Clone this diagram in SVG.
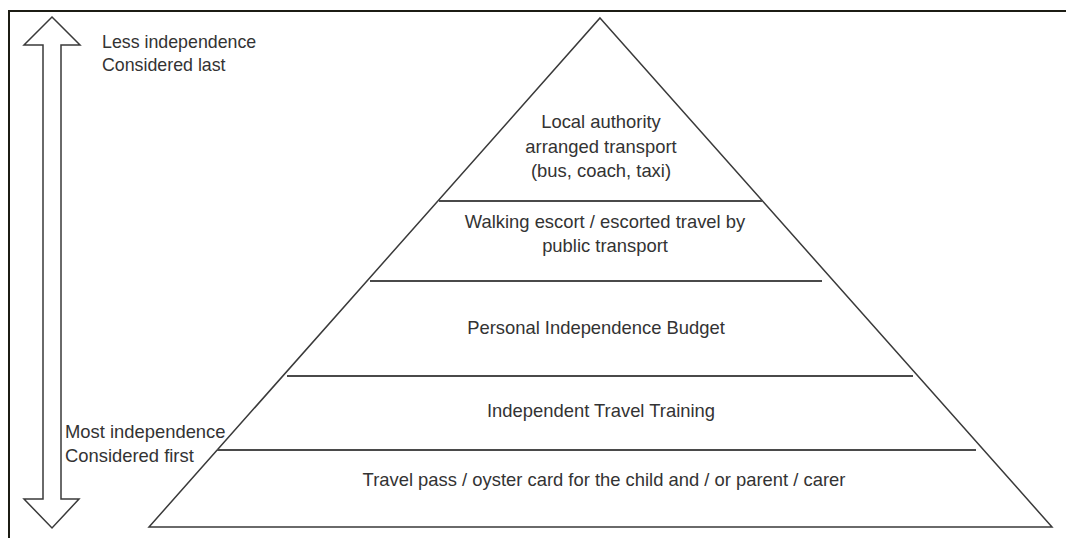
<svg xmlns="http://www.w3.org/2000/svg" width="1066" height="538" viewBox="0 0 1066 538">
  <style>
    .frame { fill: none; stroke: #1c1c14; stroke-width: 2; }
    .edge { fill: none; stroke: #3a3a3a; stroke-width: 1.5; }
    .div { fill: none; stroke: #4a4a4a; stroke-width: 2; }
    .lbl { font-family: "Liberation Sans", Arial, sans-serif; font-size: 18.4px; fill: #333333; }
    .c { text-anchor: middle; }
  </style>
  <rect x="0" y="0" width="1066" height="538" fill="#ffffff"/>
  <path class="frame" d="M9,538 V11 H1066"/>

  <g id="arrow">
    <polygon class="edge" points="52,17 80,45 61,45 61,499 79,499 52,528 24,499 43,499 43,45 24,45"/>
  </g>

  <g id="label-top">
    <text class="lbl" x="102" y="48" style="font-size:17.8px">Less independence</text>
    <text class="lbl" x="102" y="71" style="font-size:17.8px">Considered last</text>
  </g>
  <g id="label-bottom">
    <text class="lbl" x="65" y="438">Most independence</text>
    <text class="lbl" x="65" y="462">Considered first</text>
  </g>

  <g id="pyramid">
    <polygon class="edge" points="600,18 1052,527 149,527"/>
  </g>

  <g id="connectors">
    <line class="div" x1="439" y1="201" x2="762" y2="201"/>
    <line class="div" x1="370" y1="281" x2="822" y2="281"/>
    <line class="div" x1="287" y1="376" x2="913" y2="376"/>
    <line class="div" x1="217" y1="450" x2="976" y2="450"/>
  </g>

  <g id="layer-1">
    <text class="lbl c" x="601" y="128">Local authority</text>
    <text class="lbl c" x="601" y="153">arranged transport</text>
    <text class="lbl c" x="601" y="177">(bus, coach, taxi)</text>
  </g>
  <g id="layer-2">
    <text class="lbl c" x="605" y="228">Walking escort / escorted travel by</text>
    <text class="lbl c" x="605" y="252">public transport</text>
  </g>
  <g id="layer-3">
    <text class="lbl c" x="596" y="334">Personal Independence  Budget</text>
  </g>
  <g id="layer-4">
    <text class="lbl c" x="601" y="417">Independent  Travel Training</text>
  </g>
  <g id="layer-5">
    <text class="lbl c" x="604" y="486">Travel pass / oyster card for the child and / or parent / carer</text>
  </g>
</svg>
